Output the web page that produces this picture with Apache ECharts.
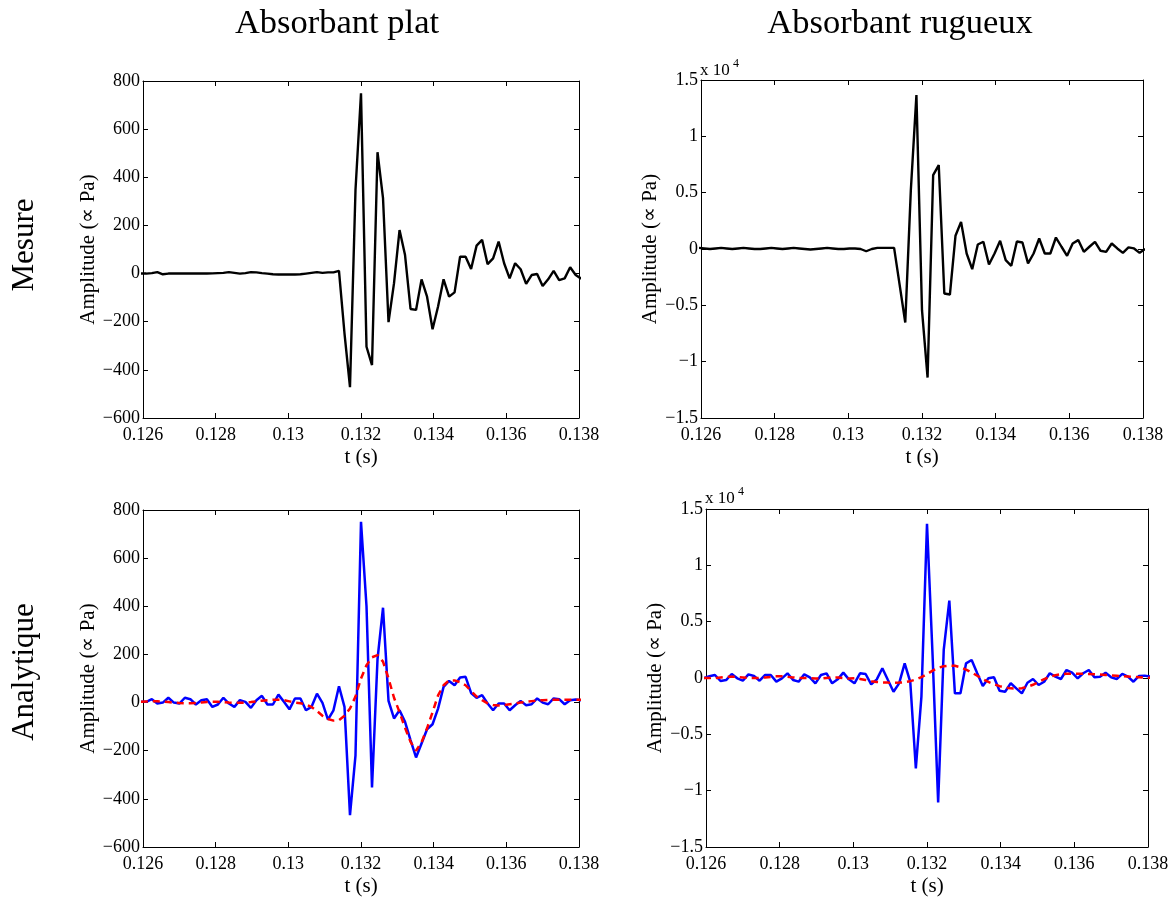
<!DOCTYPE html>
<html><head><meta charset="utf-8">
<script src="https://cdn.jsdelivr.net/npm/echarts@6/dist/echarts.min.js"></script>
<style>html,body{margin:0;padding:0;background:#fff}#c{width:1174px;height:900px}</style>
</head><body><div id="c"></div>
<script>
// sampling of the signals (s)
const T0 = 0.12594;
const DT = 0.0001515;

// column / row titles
const colTitles = ['Absorbant plat', 'Absorbant rugueux'];
const rowTitles = ['Mesure', 'Analytique'];

// axis ticks
const xTickMin = 0.126, xTickMax = 0.138, xTickStep = 0.002;
const yPlatTicks = [-600, 800, 200];
const yRugTicks = [-15000, 15000, 5000];

// Mesure, absorbant plat (black)
const measPlat = [0,0,2,6,-3,0,0,0,0,0,0,0,0,1,2,3,6,3,0,2,6,5,2,0,-3,-4,-4,-4,-4,-3,0,3,6,3,5,5,
  11,-248,-472,347,749,-304,-380,504,313,-202,-40,181,77,-147,-151,-24,-96,-231,-137,-24,-96,-78,70,70,19,116,140,39,63,133,43,-20,43,18,-43,-6,-2,-52,-24,11,-27,-20,26,-6,-21];

// Mesure, absorbant rugueux (black)
const measRug = [100,50,0,50,100,50,0,50,100,50,0,0,50,100,50,0,50,100,50,0,-50,0,50,100,50,0,0,50,50,0,-200,0,100,100,100,100,
  -3200,-6520,5230,13660,-5430,-11410,6560,7450,-3950,-4040,1170,2410,-400,-1790,400,640,-1370,-400,730,-990,-1490,670,580,-1280,-400,930,-400,-400,1020,200,-600,490,790,-250,200,640,-160,-250,490,50,-340,140,50,-340,0];

// Analytique, absorbant plat (blue solid)
const anaPlatBlue = [3,3,14,-4,0,20,0,-4,20,14,-8,10,14,-18,-8,20,-4,-18,10,3,-22,10,28,-8,-8,33,3,-28,17,17,-32,-18,37,-1,-71,-32,68,-18,-468,-219,
  751,400,-353,180,394,7,-66,-32,-80,-156,-228,-170,-111,-90,-25,65,90,72,104,107,40,20,31,-4,-32,-4,-4,-32,-11,7,-11,-7,17,0,-7,17,14,-7,10,13,10];

// Analytique, absorbant plat (red dashed)
const anaPlatRed = [3,4,5,5,4,2,0,-2,-3,-3,-2,0,2,3,3,2,0,-1,-1,0,2,5,8,10,12,12,10,5,0,-3,
  -8,-18,-35,-55,-68,-75,-73,-55,-25,25,100,155,188,197,170,100,20,-40,-105,-163,-200,-165,-107,-40,30,72,92,92,85,72,48,25,10,-3,-10,-12,-10,-7,-4,0,3,6,8,10,11,12,12,12,12,12,12];

// Analytique, absorbant rugueux (blue solid)
const anaRugBlue = [0,150,267,-267,-180,355,-30,-240,326,180,-240,267,267,-326,-30,415,-180,-326,326,60,-474,267,415,-474,-120,474,-120,-474,415,355,-563,-120,860,-180,-1215,-474,1300,-350,-8030,-1660,
  13690,2000,-11050,2490,6870,-1360,-1360,1300,1600,420,-710,-30,60,-1130,-1220,-470,-920,-1360,-420,-90,-620,-330,420,120,-90,710,470,-30,420,710,60,120,470,60,-90,360,120,-330,180,210,120];

// Analytique, absorbant rugueux (red dashed)
const anaRugRed = [0,0,0,50,100,100,100,50,0,0,0,50,100,150,150,100,50,0,0,0,-50,-50,0,50,50,0,-50,-30,
  -80,-180,-280,-350,-390,-410,-420,-410,-370,-280,-130,80,350,650,900,1050,1100,1080,950,750,500,200,-100,-350,-550,-720,-850,-920,-940,-900,-780,-600,-350,-100,100,250,330,370,380,380,370,350,330,300,270,230,200,160,130,100,70,40,20];

const times = measPlat.map((_, i) => +(T0 + i * DT).toFixed(7));
const pairs = arr => arr.map((v, i) => [times[i], v]);

const FONT = 'Liberation Serif';
const grids = [
  {left: 143, top: 81, width: 436, height: 337},
  {left: 701, top: 80, width: 442, height: 338},
  {left: 143, top: 510, width: 436, height: 337},
  {left: 706, top: 509, width: 442, height: 338}
];

const fmtX = v => String(Math.round(v * 1000) / 1000);
const fmtPlat = v => String(Math.round(v)).replace('-', '\u2212');
const fmtRug = v => String(Math.round(v / 1000) / 10).replace('-', '\u2212');

const xAxes = [], yAxes = [];
grids.forEach((g, gi) => {
  const rug = gi % 2 === 1;
  const yt = rug ? yRugTicks : yPlatTicks;
  ['bottom', 'top'].forEach(pos => {
    xAxes.push({
      type: 'value', gridIndex: gi, position: pos,
      min: xTickMin, max: xTickMax, interval: xTickStep,
      name: pos === 'bottom' ? 't (s)' : '',
      nameLocation: 'middle', nameGap: 29,
      nameTextStyle: {fontFamily: FONT, fontSize: 21, color: '#000'},
      axisLine: {onZero: false, lineStyle: {color: '#000', width: 1}},
      axisTick: {inside: true, length: 5, lineStyle: {color: '#000', width: 1}},
      splitLine: {show: false},
      axisLabel: pos === 'bottom'
        ? {show: true, margin: 8, fontFamily: FONT, fontSize: 18, color: '#000', formatter: fmtX, showMinLabel: true, showMaxLabel: true}
        : {show: false}
    });
  });
  ['left', 'right'].forEach(pos => {
    yAxes.push({
      type: 'value', gridIndex: gi, position: pos,
      min: yt[0], max: yt[1], interval: yt[2],
      name: pos === 'left' ? 'Amplitude (\u221D Pa)' : '',
      nameLocation: 'middle', nameGap: rug ? 37 : 43,
      nameTextStyle: {fontFamily: FONT, fontSize: 21, color: '#000'},
      axisLine: {onZero: false, lineStyle: {color: '#000', width: 1}},
      axisTick: {inside: true, length: 5, lineStyle: {color: '#000', width: 1}},
      splitLine: {show: false},
      axisLabel: pos === 'left'
        ? {show: true, margin: 3, fontFamily: FONT, fontSize: 18, color: '#000', formatter: rug ? fmtRug : fmtPlat, showMinLabel: true, showMaxLabel: true}
        : {show: false}
    });
  });
});

const line = (gi, data, color, width, dashed) => ({
  type: 'line', xAxisIndex: gi * 2, yAxisIndex: gi * 2,
  data: pairs(data), showSymbol: false, symbol: 'none', clip: true,
  lineStyle: {color: color, width: width, type: dashed ? [7, 5] : 'solid'},
  animation: false
});

const series = [
  line(0, measPlat, '#000', 2.4, false),
  line(1, measRug, '#000', 2.4, false),
  line(2, anaPlatBlue, '#0000ff', 2.5, false),
  line(2, anaPlatRed, '#ff0000', 2.5, true),
  line(3, anaRugBlue, '#0000ff', 2.5, false),
  line(3, anaRugRed, '#ff0000', 2.5, true)
];

const txt = (x, y, s, size, rot, align) => ({
  type: 'text', x: x, y: y, rotation: rot || 0,
  style: {text: s, fontFamily: FONT, fontSize: size, fill: '#000', align: align || 'center', verticalAlign: 'middle'}
});

const graphic = [
  txt(337, 24, colTitles[0], 34.5),
  txt(900, 24, colTitles[1], 34.5),
  txt(25, 245, rowTitles[0], 31, Math.PI / 2),
  txt(25, 672, rowTitles[1], 31, Math.PI / 2),
  txt(700, 71, 'x 10', 17, 0, 'left'),
  txt(733, 64, '4', 12, 0, 'left'),
  txt(705, 499, 'x 10', 17, 0, 'left'),
  txt(738, 492, '4', 12, 0, 'left')
];

const chart = echarts.init(document.getElementById('c'));
chart.setOption({
  animation: false,
  backgroundColor: '#fff',
  grid: grids,
  xAxis: xAxes,
  yAxis: yAxes,
  series: series,
  graphic: graphic
});
</script>
</body></html>
